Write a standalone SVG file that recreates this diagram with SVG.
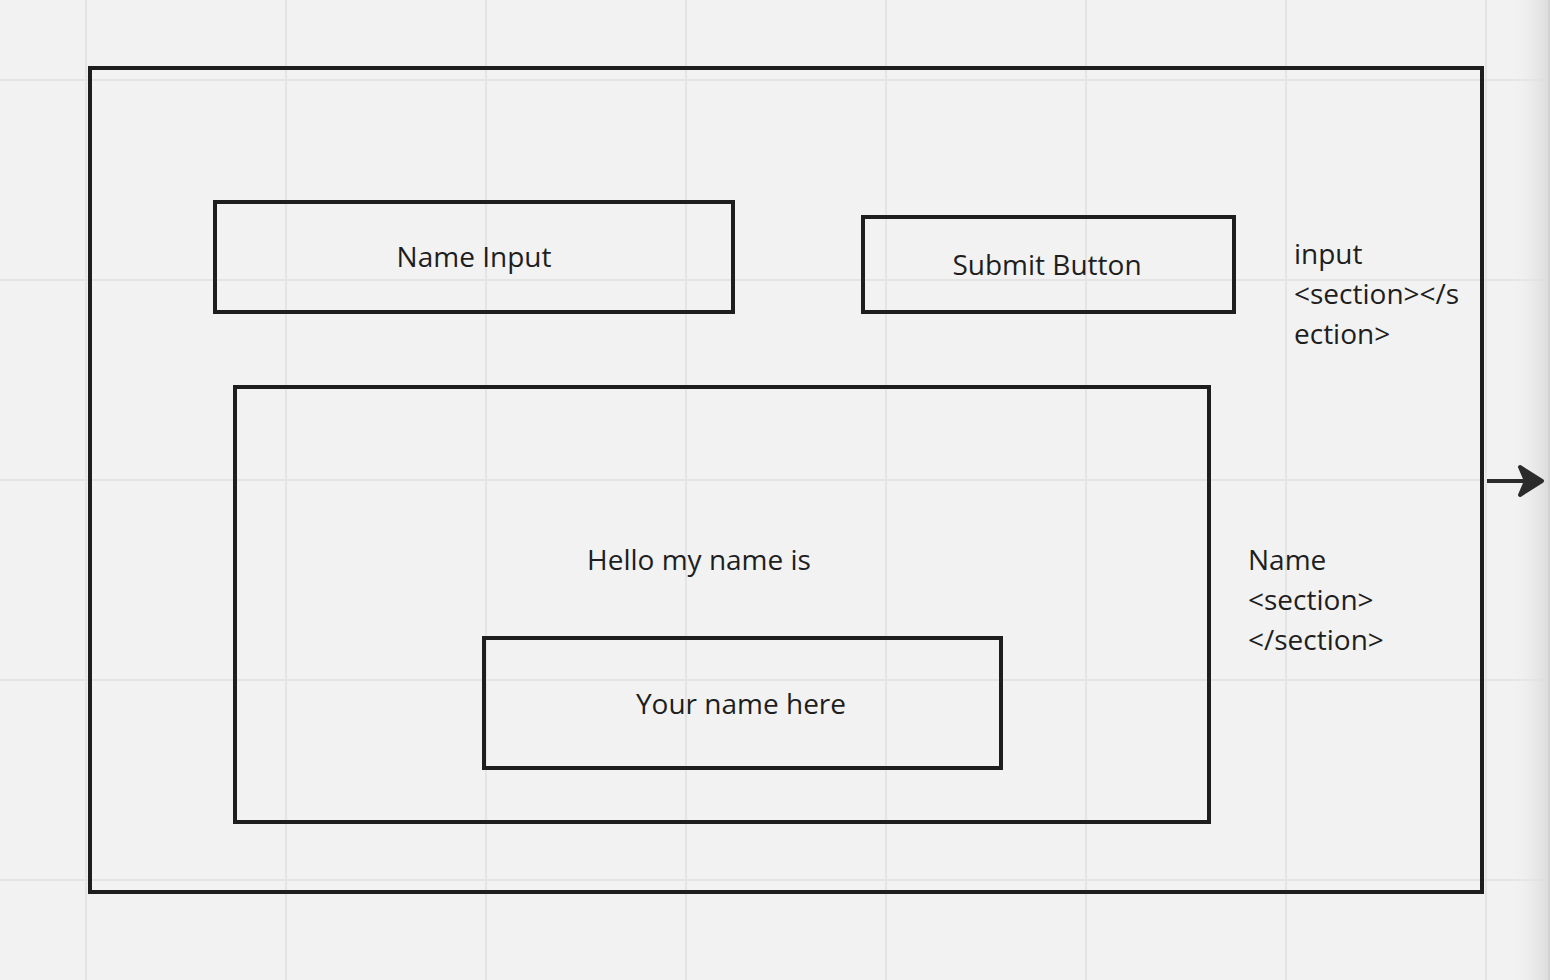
<svg xmlns="http://www.w3.org/2000/svg" width="1550" height="980" viewBox="0 0 1550 980">
<defs>
<style>
.grid{stroke:#e4e4e4;stroke-width:2;fill:none}
.box{fill:none;stroke:#1e1e1e;stroke-width:4}
.lbl{font-family:"Open Sans","Liberation Sans",sans-serif;font-size:28px;fill:#1e1e1e}
.c{text-anchor:middle}
</style>
<linearGradient id="edge" x1="0" y1="0" x2="1" y2="0">
<stop offset="0" stop-color="#f2f2f2" stop-opacity="0"/>
<stop offset="1" stop-color="#dadada"/>
</linearGradient>
</defs>
<rect width="1550" height="980" fill="#f2f2f2"/>
<g id="grid" class="grid">
<path d="M86,0V980M286,0V980M486,0V980M686,0V980M886,0V980M1086,0V980M1286,0V980M1486,0V980"/>
<path d="M0,80H1550M0,280H1550M0,480H1550M0,680H1550M0,880H1550"/>
</g>
<rect x="1510" y="0" width="40" height="980" fill="url(#edge)"/>
<rect x="1548" y="0" width="2" height="980" fill="#d2d2d2"/>
<g id="outer"><rect class="box" x="90" y="68" width="1392" height="824"/></g>
<g id="name-input"><rect class="box" x="215" y="202" width="518" height="110"/><text class="lbl c" x="474" y="267">Name Input</text></g>
<g id="submit-button"><rect class="box" x="863" y="217" width="371" height="95"/><text class="lbl c" x="1047" y="275">Submit Button</text></g>
<g id="hello-section"><rect class="box" x="235" y="387" width="974" height="435"/><text class="lbl c" x="699" y="570">Hello my name is</text></g>
<g id="your-name"><rect class="box" x="484" y="638" width="517" height="130"/><text class="lbl c" x="741" y="714">Your name here</text></g>
<g id="input-note"><text class="lbl" x="1294" y="264">input</text><text class="lbl" x="1294" y="304">&lt;section&gt;&lt;/s</text><text class="lbl" x="1294" y="344">ection&gt;</text></g>
<g id="name-note"><text class="lbl" x="1248" y="570">Name</text><text class="lbl" x="1248" y="610">&lt;section&gt;</text><text class="lbl" x="1248" y="650">&lt;/section&gt;</text></g>
<g id="connectors">
<line x1="1487" y1="481" x2="1530" y2="481" stroke="#2b2b2b" stroke-width="4"/>
<path d="M1520,467 L1542,481 L1520,495 L1526,481 Z" fill="#2b2b2b" stroke="#2b2b2b" stroke-width="4" stroke-linejoin="round"/>
</g>
</svg>
